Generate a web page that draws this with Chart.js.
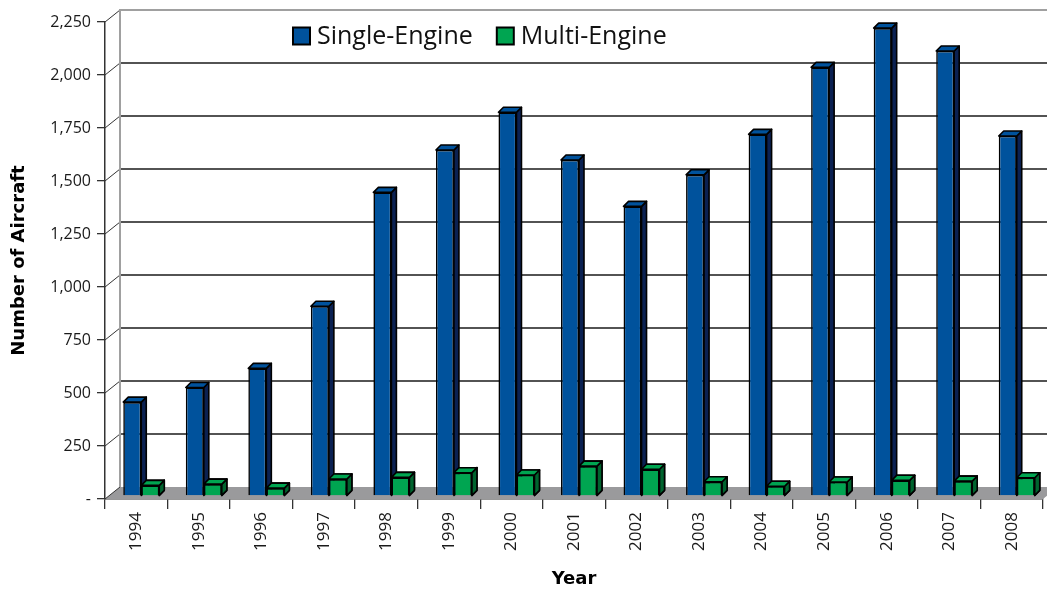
<!DOCTYPE html>
<html>
<head>
<meta charset="utf-8">
<title>Aircraft by year</title>
<script src="https://cdn.jsdelivr.net/npm/chart.js@4.4.1/dist/chart.umd.min.js"></script>
<style>
  html, body { margin: 0; padding: 0; background: #fff; }
  .chart { width: 1047px; height: 590px; }
</style>
</head>
<body>
<div class="chart">
  <canvas id="myChart" width="1047" height="590"></canvas>
</div>
<script>
var years = ['1994','1995','1996','1997','1998','1999','2000','2001','2002','2003','2004','2005','2006','2007','2008'];
var singleEngine = [443, 512, 602, 895, 1432, 1632, 1810, 1585, 1366, 1515, 1706, 2022, 2207, 2099, 1698];
var multiEngine = [50, 56, 37, 80, 88, 110, 99, 141, 126, 67, 46, 66, 74, 70, 86];
var yTicks = [0, 250, 500, 750, 1000, 1250, 1500, 1750, 2000, 2250];

// depth of the back wall and of the bars, in pixels
var wallDx = 15, wallDy = 12;
var barDx = 5, barDy = 5;
var shiftX = 5, shiftY = 3;

var colors = {
  single: '#00529c', singleSide: '#0b2152',
  multi: '#00a551', multiSide: '#00642f'
};

function drawDepth(ctx, ds, bar) {
  var p = bar.getProps(['x', 'y', 'base', 'width'], true);
  var l = p.x - p.width / 2, r = p.x + p.width / 2;
  ctx.lineWidth = 1.6;
  ctx.strokeStyle = '#000';
  ctx.lineJoin = 'round';
  // side
  ctx.fillStyle = ds.sideColor;
  ctx.beginPath();
  ctx.moveTo(r, p.y);
  ctx.lineTo(r + barDx, p.y - barDy);
  ctx.lineTo(r + barDx, p.base - barDy);
  ctx.lineTo(r, p.base);
  ctx.closePath();
  ctx.fill();
  ctx.stroke();
  // top
  ctx.fillStyle = ds.backgroundColor;
  ctx.beginPath();
  ctx.moveTo(l, p.y);
  ctx.lineTo(l + barDx, p.y - barDy);
  ctx.lineTo(r + barDx, p.y - barDy);
  ctx.lineTo(r, p.y);
  ctx.closePath();
  ctx.fill();
  ctx.stroke();
}

var threeD = {
  id: 'threeD',
  beforeDatasetsDraw: function(chart) {
    var ctx = chart.ctx, a = chart.chartArea, y = chart.scales.y;
    ctx.save();
    // floor
    ctx.fillStyle = '#9a9a9c';
    ctx.beginPath();
    ctx.moveTo(a.left, a.bottom);
    ctx.lineTo(a.right, a.bottom);
    ctx.lineTo(a.right + wallDx, a.bottom - wallDy);
    ctx.lineTo(a.left + wallDx, a.bottom - wallDy);
    ctx.closePath();
    ctx.fill();
    // grid lines on back wall
    yTicks.forEach(function(v) {
      var py = y.getPixelForValue(v);
      if (v > 0 && v < 2250) {
        ctx.strokeStyle = '#1a1a1a';
        ctx.lineWidth = 1.3;
        ctx.beginPath();
        ctx.moveTo(a.left + wallDx, py - wallDy);
        ctx.lineTo(a.right + wallDx, py - wallDy);
        ctx.stroke();
      }
      ctx.strokeStyle = '#333';
      ctx.lineWidth = 1;
      ctx.beginPath();
      ctx.moveTo(a.left, py);
      ctx.lineTo(a.left + wallDx, py - wallDy);
      ctx.stroke();
    });
    // wall edges
    ctx.strokeStyle = '#a0a0a0';
    ctx.lineWidth = 2;
    ctx.beginPath();
    ctx.moveTo(a.left + wallDx, a.bottom - wallDy);
    ctx.lineTo(a.left + wallDx, a.top - wallDy);
    ctx.lineTo(a.right + wallDx, a.top - wallDy);
    ctx.stroke();
    ctx.restore();

    ctx.save();
    ctx.translate(shiftX, -shiftY);
  },
  afterDatasetDraw: function(chart, args) {
    var ds = chart.data.datasets[args.index];
    args.meta.data.forEach(function(bar) { drawDepth(chart.ctx, ds, bar); });
  },
  afterDatasetsDraw: function(chart) {
    // the multi-engine bars sit in front of the single-engine side faces
    var ctx = chart.ctx;
    var ds = chart.data.datasets[1];
    chart.getDatasetMeta(1).data.forEach(function(bar) {
      bar.draw(ctx);
      drawDepth(ctx, ds, bar);
    });
    ctx.restore();
  },
  afterDraw: function(chart) {
    // legend
    var ctx = chart.ctx;
    ctx.save();
    ctx.font = '25px "Open Sans"';
    ctx.textBaseline = 'middle';
    var x = 293, yMid = 36;
    chart.data.datasets.forEach(function(ds) {
      ctx.fillStyle = ds.backgroundColor;
      ctx.fillRect(x, yMid - 8.5, 17, 17);
      ctx.strokeStyle = '#000';
      ctx.lineWidth = 2;
      ctx.strokeRect(x, yMid - 8.5, 17, 17);
      ctx.fillStyle = '#111';
      ctx.fillText(ds.label, x + 24, yMid + 1);
      x += 24 + ctx.measureText(ds.label).width + 24;
    });
    ctx.restore();
  }
};

var ctx = document.getElementById('myChart').getContext('2d');
var myChart = new Chart(ctx, {
  type: 'bar',
  data: {
    labels: years,
    datasets: [{
      label: 'Single-Engine',
      data: singleEngine,
      backgroundColor: colors.single,
      sideColor: colors.singleSide,
      borderColor: '#000',
      borderWidth: 1.6
    }, {
      label: 'Multi-Engine',
      data: multiEngine,
      backgroundColor: colors.multi,
      sideColor: colors.multiSide,
      borderColor: '#000',
      borderWidth: 1.6
    }]
  },
  options: {
    responsive: false,
    animation: false,
    datasets: { bar: { categoryPercentage: 0.576, barPercentage: 1 } },
    layout: { padding: { top: 22, right: 4, left: 0, bottom: 0 } },
    plugins: {
      legend: { display: false },
      tooltip: { enabled: false }
    },
    scales: {
      x: {
        grid: { drawOnChartArea: false, drawTicks: true, tickLength: 10, color: '#333', lineWidth: 1.3 },
        border: { display: true, color: '#333', width: 1.5 },
        ticks: {
          autoSkip: false, maxRotation: 90, minRotation: 90, padding: 3,
          color: '#1a1a1a', font: { family: 'Open Sans', size: 17 }
        },
        title: {
          display: true, text: 'Year', color: '#000',
          font: { family: 'DejaVu Sans', size: 18, weight: 'bold' },
          padding: { top: 0, bottom: 0 }
        },
        afterFit: function(scale) { scale.height = 91; }
      },
      y: {
        min: 0, max: 2250,
        grid: { drawOnChartArea: false, drawTicks: true, tickLength: 8, color: '#333', lineWidth: 1.3 },
        border: { display: true, color: '#333', width: 1.5 },
        ticks: {
          stepSize: 250, padding: 6, color: '#1a1a1a',
          font: { family: 'Open Sans', size: 16 },
          callback: function(v) { return v === 0 ? '-' : v.toLocaleString('en-US'); }
        },
        title: {
          display: true, text: 'Number of Aircraft', color: '#000',
          font: { family: 'DejaVu Sans', size: 18, weight: 'bold' },
          padding: { top: 9, bottom: 0 }
        },
        afterFit: function(scale) { scale.width = 105; }
      }
    }
  },
  plugins: [threeD]
});
</script>
</body>
</html>
